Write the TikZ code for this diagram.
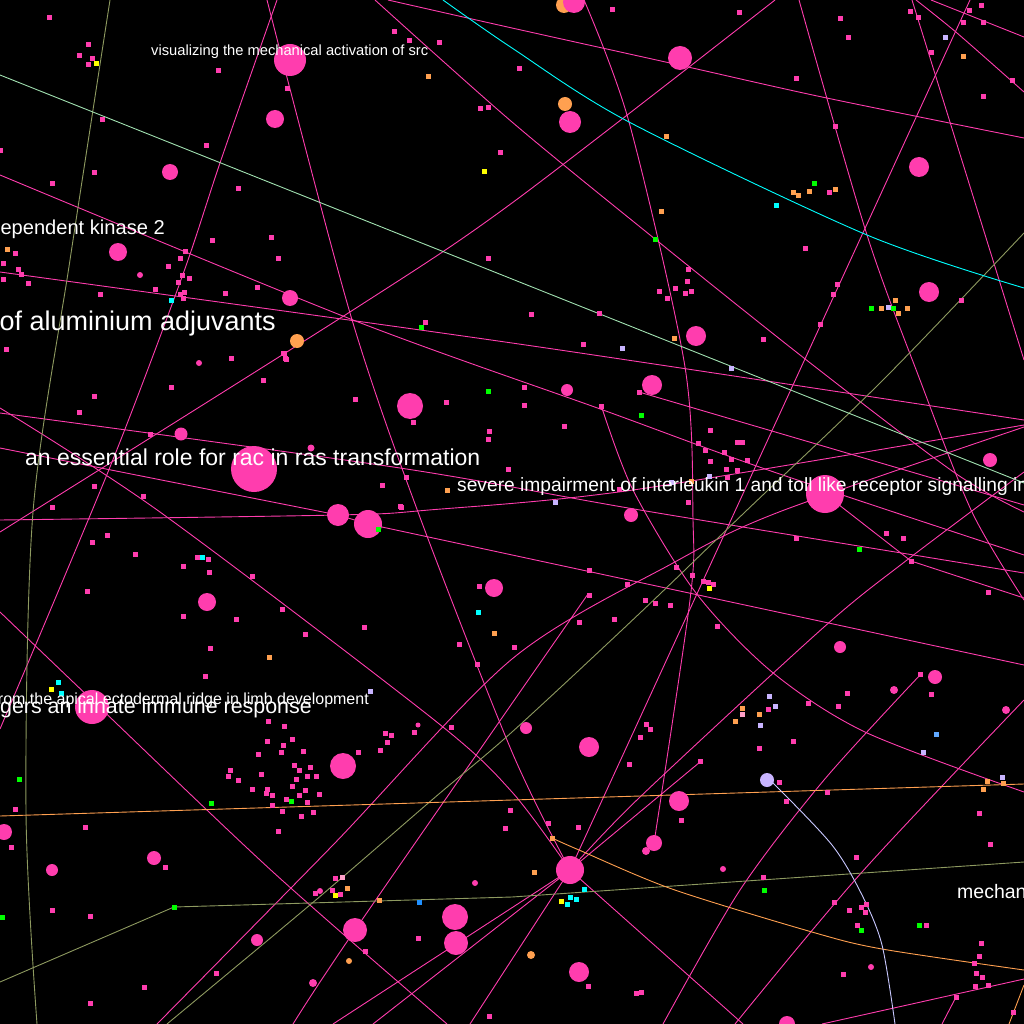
\documentclass[tikz,border=0pt]{standalone}
\usepackage{fontspec}
\setmainfont{Liberation Sans}
\definecolor{pk}{HTML}{FF3DAE}
\definecolor{orng}{HTML}{FFA050}
\definecolor{grn}{HTML}{00FF00}
\definecolor{cyn}{HTML}{00FFFF}
\definecolor{ylw}{HTML}{FFFF00}
\definecolor{lav}{HTML}{C8B4FF}
\definecolor{lpk}{HTML}{FFA0C8}
\definecolor{lbl}{HTML}{60A8FF}
\definecolor{dbl}{HTML}{2090FF}
\definecolor{olv}{HTML}{8E9A60}
\definecolor{mnt}{HTML}{A0E0B0}
\definecolor{lavl}{HTML}{C8C8FF}
\tikzset{
  edge/.style={draw=pk, line width=0.9pt},
  oedge/.style={draw=olv, line width=0.9pt},
  blob/.style={circle, fill=#1, draw=none, inner sep=0pt},
  sq/.style={rectangle, fill=#1, draw=none, inner sep=0pt, minimum size=5pt},
  lbl/.style={text=white, inner sep=0pt}
}
\begin{document}
\begin{tikzpicture}[x=1pt,y=-1pt]
\useasboundingbox (0,0) rectangle (1024,1024);
\fill[black] (0,0) rectangle (1024,1024);
\clip (0,0) rectangle (1024,1024);
% named anchor points
\coordinate (hub) at (570,870);
\coordinate (cb338) at (338,515);
\coordinate (cb368) at (368,524);
\coordinate (cb355) at (355,930);
\coordinate (cb654) at (654,843);
\coordinate (cb825) at (825,494);
\coordinate (cbl) at (767,780);
% pink edges
\draw[edge] plot[smooth] coordinates {(267,0) (350,313) (418,512) (512,752) (hub)};
\draw[edge] plot[smooth] coordinates {(277,0) (221,160) (182,277) (110,467) (0,729)};
\draw[edge] plot[smooth] coordinates {(375,0) (512,122) (655,239) (809,362) (955,473) (1024,512)};
\draw[edge] plot[smooth] coordinates {(388,0) (512,28) (679,65) (822,97) (1024,138)};
\draw[edge] plot[smooth] coordinates {(799,0) (867,235) (920,380) (972,512) (1024,600)};
\draw[edge] plot coordinates {(912,0) (1024,360)};
\draw[edge] plot[smooth] coordinates {(916,0) (957,33) (1024,92)};
\draw[edge] plot coordinates {(931,0) (1024,37)};
\draw[edge] plot coordinates {(970,0) (hub)};
\draw[edge] plot[smooth] coordinates {(584,0) (629,122) (685,367) (693,520) (690,600) (cb654)};
\draw[edge] plot[smooth] coordinates {(775,0) (512,203) (353,310) (0,532)};
\draw[edge] plot[smooth] coordinates {(0,175) (353,320) (603,410) (768,470) (1024,555)};
\draw[edge] plot[smooth] coordinates {(0,272) (512,343) (1024,420)};
\draw[edge] plot[smooth] coordinates {(0,408) (160,512) (433,719) (512,792) (hub)};
\draw[edge] plot coordinates {(hub) (743,1024)};
\draw[edge] plot coordinates {(0,448) (cb338) (cb368) (1024,665)};
\draw[edge] plot[smooth] coordinates {(0,520) (cb338) (429,510) (633,490) (1024,425)};
\draw[edge] plot coordinates {(639,392) (1024,505)};
\draw[edge] plot[smooth] coordinates {(0,413) (400,468) (640,510) (1024,573)};
\draw[edge] plot[smooth] coordinates {(601,405) (633,490) (696,593) (772,672) (865,732) (1024,792)};
\draw[edge] plot[smooth] coordinates {(hub) (640,797) (824,627) (907,560) (1024,472)};
\draw[edge] plot coordinates {(hub) (700,762)};
\draw[edge] plot coordinates {(cb825) (911,561) (1024,598)};
\draw[edge] plot[smooth] coordinates {(588,594) (cb355) (293,1024)};
\draw[edge] plot[smooth] coordinates {(1024,427) (779,512) (673,563) (512,659) (333,845) (157,1024)};
\draw[edge] plot coordinates {(hub) (333,1024)};
\draw[edge] plot coordinates {(hub) (373,1024)};
\draw[edge] plot coordinates {(hub) (470,1024)};
\draw[edge] plot[smooth] coordinates {(0,612) (92,700) (273,872) (447,1024)};
\draw[edge] plot[smooth] coordinates {(1024,700) (862,872) (735,1024)};
\draw[edge] plot[smooth] coordinates {(921,674) (824,780) (740,890) (663,1024)};
\draw[edge] plot coordinates {(1024,979) (822,1024)};
\draw[edge] plot coordinates {(956,997) (942,1024)};
% coloured edges
\draw[oedge] plot[smooth] coordinates {(1024,233) (883,380) (745,512) (640,613) (512,732) (433,799) (317,899) (167,1024)};
\draw[oedge] plot[smooth] coordinates {(110,0) (70,260) (33,512) (26,812) (37,1024)};
\draw[oedge] plot coordinates {(0,982) (174,907) (512,897) (1024,862)};
\draw[draw=mnt, line width=0.9pt] plot coordinates {(0,75) (1024,483)};
\draw[draw=cyn, line width=0.9pt] plot[smooth] coordinates {(443,0) (512,48) (629,122) (867,235) (1024,288)};
\draw[draw=orng, line width=0.9pt] plot coordinates {(0,816) (512,800) (1024,784)};
\draw[draw=orng, line width=0.9pt] plot[smooth] coordinates {(552,838) (579,850) (672,889) (812,932) (882,949) (1024,970)};
\draw[draw=orng, line width=0.9pt] plot coordinates {(1024,985) (1009,1024)};
\draw[draw=lavl, line width=0.9pt] plot[smooth] coordinates {(cbl) (775,785) (832,845) (862,895) (882,945) (895,1024)};
% circles
\node[blob=orng, minimum size=16pt] (oc1) at (564,5) {};
\foreach \x/\y/\r [count=\i] in {290/60/16, 680/58/12, 574/2/11, 570/122/11, 275/119/9, 170/172/8, 919/167/10, 929/292/10, 118/252/9, 290/298/8, 696/336/10, 652/385/10, 410/406/13, 567/390/6, 181/434/6.5, 254/469/23, 338/515/11, 368/524/14, 825/494/19, 990/460/7, 631/515/7, 494/588/9, 207/602/9, 92/707/17, 343/766/13, 589/747/10, 526/728/6, 679/801/10, 654/843/8, 840/647/6, 935/677/7, 570/870/14, 455/917/13, 456/943/12, 355/930/12, 579/972/10, 257/940/6, 52/870/6, 4/832/8, 154/858/7, 787/1024/8, 140/275/3, 199/363/3, 311/448/3.5, 894/690/4, 1006/710/4, 313/983/4, 418/725/2.5, 646/851/4, 723/869/3, 871/967/3, 475/883/3, 320/891/3}
  \node[blob=pk, minimum size={2*\r pt}] (c\i) at (\x,\y) {};
\foreach \x/\y/\r [count=\i] in {565/104/7, 297/341/7, 531/955/4, 349/961/3}
  \node[blob=orng, minimum size={2*\r pt}] (o\i) at (\x,\y) {};
\node[blob=lav, minimum size=14pt] (lc) at (cbl) {};
% pink squares
\foreach \x/\y [count=\i] in {49/18, 88/45, 79/56, 92/59, 88/65, 218/71, 394/32, 409/41, 439/43, 287/89, 480/109, 488/108, 102/120, 206/146, 500/153, 0/151, 94/173, 52/184, 238/189, 212/240, 271/237, 488/258, 278/258, 15/253, 3/263, 18/269, 21/274, 3/279, 28/283, 185/251, 180/258, 168/266, 182/275, 189/278, 178/282, 155/289, 100/294, 184/292, 180/294, 183/298, 225/293, 257/287, 425/322, 6/349, 231/358, 283/353, 286/359, 263/380, 171/387, 94/396, 79/412, 355/399, 446/402, 413/422, 489/431, 488/439, 150/434, 382/485, 406/477, 508/469, 94/486, 143/496, 52/507, 401/507,
612/10, 739/13, 840/19, 848/38, 910/12, 918/18, 969/11, 981/6, 963/23, 983/23, 931/53, 1012/81, 983/97, 519/69, 796/79, 835/127, 829/193, 805/248, 688/269, 687/281, 675/288, 659/291, 667/298, 685/293, 691/291, 531/314, 599/313, 837/284, 833/294, 820/324, 961/300, 583/344, 763/339, 524/387, 524/405, 601/406, 564/426, 639/392, 710/430, 698/443, 705/450, 724/452, 737/442, 742/442, 731/459, 747/460, 710/461, 726/469, 737/470, 727/477, 688/502, 619/489, 284/353, 285/358,
400/506, 589/570, 627/584, 676/567, 692/575, 703/581, 708/582, 713/584, 589/595, 645/600, 655/603, 670/605, 579/622, 614/619, 717/626, 479/586, 459/644, 514/647, 477/664, 282/609, 364/627, 305/634,
107/535, 92/542, 135/554, 197/557, 208/559, 183/566, 209/572, 252/576, 87/591, 183/616, 236/619, 210/648, 205/676, 268/721, 284/726, 267/741, 283/745, 292/739, 258/754, 281/752, 303/751, 230/770, 228/776, 238/780, 261/774, 294/765, 299/770, 310/767, 307/776, 316/776, 296/779, 292/786, 305/790, 319/794, 252/789, 267/789, 266/793, 272/795, 299/795, 286/799, 307/802, 272/805, 282/811, 301/816, 313/812, 278/831, 385/733, 391/735, 387/742, 358/752, 380/750, 414/732, 451/727, 15/809, 11/847, 85/827, 505/828, 510/810, 165/867, 52/910, 90/916, 335/878, 315/893, 332/890, 340/894, 418/938, 365/951, 216/973, 144/987, 90/1003, 489/1016,
796/538, 886/533, 903/538, 911/561, 988/592, 847/693, 838/706, 808/703, 920/674, 931/694, 768/709, 793/741, 759/748, 646/724, 650/729, 640/737, 629/764, 700/761, 779/782, 827/792, 786/801, 681/820, 979/813, 990/844, 548/823, 578/827, 856/857, 763/877, 834/902, 849/910, 861/907, 866/904, 865/912, 857/925, 926/925, 981/943, 979/956, 974/963, 976/973, 982/977, 988/985, 975/986, 956/997, 1013/1012, 843/974, 588/986, 636/993, 641/992}
  \node[sq=pk] (p\i) at (\x,\y) {};
% coloured squares
\foreach \x/\y [count=\i] in {428/77, 666/137, 793/193, 798/196, 809/192, 835/190, 661/212, 881/308, 895/300, 898/313, 907/308, 963/57, 7/249, 674/338, 447/490, 691/481, 494/633, 269/657, 347/888, 379/900, 742/708, 759/714, 735/721, 987/781, 1003/783, 983/789, 552/838, 534/872}
  \node[sq=orng] (q\i) at (\x,\y) {};
\foreach \x/\y [count=\i] in {814/184, 655/239, 871/308, 893/308, 421/327, 488/391, 641/415, 19/779, 211/803, 291/801, 2/917, 859/549, 764/890, 861/930, 919/925, 378/529, 174/907}
  \node[sq=grn] (g\i) at (\x,\y) {};
\foreach \x/\y [count=\i] in {776/206, 171/300, 202/557, 478/612, 58/682, 61/693, 584/889, 570/897, 576/899, 567/904}
  \node[sq=cyn] (k\i) at (\x,\y) {};
\foreach \x/\y [count=\i] in {96/64, 484/172, 51/689, 709/588, 335/895, 561/901}
  \node[sq=ylw] (y\i) at (\x,\y) {};
\foreach \x/\y [count=\i] in {945/38, 888/307, 622/348, 731/368, 709/476, 671/482, 555/502, 370/691, 769/696, 775/706, 760/725, 923/752, 1002/777}
  \node[sq=lav] (v\i) at (\x,\y) {};
\node[sq=lpk] (lp1) at (342,877) {};
\node[sq=lpk] (lp2) at (742,714) {};
\node[sq=lbl] (lb1) at (936,734) {};
\node[sq=dbl] (db1) at (419,902) {};
% labels
\node[lbl, anchor=base west, font=\fontsize{14.7}{17}\selectfont] (t1) at (151,56) {visualizing the mechanical activation of src};
\node[lbl, anchor=base east, font=\fontsize{20.1}{24}\selectfont] (t2) at (165,235) {dependent kinase 2};
\node[lbl, anchor=base east, font=\fontsize{27}{31}\selectfont] (t3) at (276,330) {of aluminium adjuvants};
\node[lbl, anchor=base west, font=\fontsize{23}{27}\selectfont] (t4) at (25,465) {an essential role for rac in ras transformation};
\node[lbl, anchor=base west, font=\fontsize{19.2}{22}\selectfont] (t5) at (457,491) {severe impairment of interleukin 1 and toll like receptor signalling in};
\node[lbl, anchor=base east, font=\fontsize{21.4}{25}\selectfont] (t6) at (312,713) {triggers an innate immune response};
\node[lbl, anchor=base east, font=\fontsize{16}{19}\selectfont] (t7) at (369,704) {from the apical ectodermal ridge in limb development};
\node[lbl, anchor=base west, font=\fontsize{19.5}{23}\selectfont] (t8) at (957,898) {mechanical};
\end{tikzpicture}
\end{document}
